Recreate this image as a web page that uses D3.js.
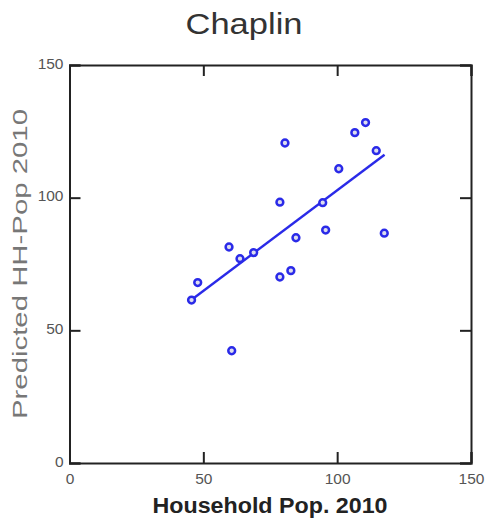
<!DOCTYPE html>
<meta charset="utf-8">
<style>
body { margin: 0; background: #fff; }
text { font-family: Arial, "Liberation Sans", sans-serif; }
</style>
<svg width="487" height="525"></svg>
<script src="https://d3js.org/d3.v7.min.js"></script>
<script>
// household pop 2010 vs predicted
var householdPop = [45.6, 47.9, 59.6, 63.7, 68.8, 78.6, 80.5, 78.6, 82.7, 84.6, 94.6, 95.7, 100.6, 106.6, 110.6, 114.6, 117.6, 60.6];
var predictedPop = [61.4, 68.0, 81.4, 77.0, 79.3, 98.3, 120.6, 70.1, 72.5, 84.9, 98.1, 87.8, 110.9, 124.5, 128.3, 117.7, 86.6, 42.3];
var fitLine = [[45.6, 61.5], [117.7, 116.2]];
var ticks = [0, 50, 100, 150];

var svg = d3.select("svg");
var plotL = 69.5, plotR = 471, plotT = 65, plotB = 463;

var x = d3.scaleLinear().domain([0, 150]).range([plotL, plotR]);
var y = d3.scaleLinear().domain([0, 150]).range([plotB, plotT]);

// title
svg.append("text")
    .attr("x", 244).attr("y", 34)
    .attr("text-anchor", "middle")
    .attr("font-size", 30)
    .attr("fill", "#333")
    .attr("textLength", 117)
    .attr("lengthAdjust", "spacingAndGlyphs")
    .text("Chaplin");

// axes, matlab style box with inward ticks
var axColor = "#222";
svg.append("g").attr("transform", "translate(0," + plotB + ")")
    .call(d3.axisBottom(x).tickValues(ticks).tickSize(-11).tickPadding(10))
    .call(g => g.selectAll("text").attr("font-size", 15.5).attr("fill", "#555"));
svg.append("g").attr("transform", "translate(0," + plotT + ")")
    .call(d3.axisTop(x).tickValues(ticks).tickSize(-11).tickFormat(""));
svg.append("g").attr("transform", "translate(" + plotL + ",0)")
    .call(d3.axisLeft(y).tickValues(ticks).tickSize(-11).tickPadding(6))
    .call(g => g.selectAll("text").attr("font-size", 15.5).attr("fill", "#555").attr("dy", "0.2em"));
svg.append("g").attr("transform", "translate(" + plotR + ",0)")
    .call(d3.axisRight(y).tickValues(ticks).tickSize(-11).tickFormat(""));

svg.selectAll(".domain").attr("stroke", axColor).attr("stroke-width", 2);
svg.selectAll(".tick line").attr("stroke", axColor).attr("stroke-width", 2);
svg.selectAll("text").attr("font-family", "Arial, 'Liberation Sans', sans-serif");

// axis labels
svg.append("text")
    .attr("x", 270).attr("y", 513)
    .attr("text-anchor", "middle")
    .attr("font-size", 22)
    .attr("font-weight", "bold")
    .attr("fill", "#222")
    .attr("textLength", 235)
    .attr("lengthAdjust", "spacingAndGlyphs")
    .text("Household Pop. 2010");

svg.append("text")
    .attr("transform", "translate(27,264) rotate(-90)")
    .attr("text-anchor", "middle")
    .attr("font-size", 19.5)
    .attr("fill", "#777")
    .attr("textLength", 310)
    .attr("lengthAdjust", "spacingAndGlyphs")
    .text("Predicted HH-Pop 2010");

// regression line
svg.append("line")
    .attr("x1", x(fitLine[0][0])).attr("y1", y(fitLine[0][1]))
    .attr("x2", x(fitLine[1][0])).attr("y2", y(fitLine[1][1]))
    .attr("stroke", "#2a2ae8")
    .attr("stroke-width", 2.4);

// points
svg.append("g").selectAll("circle")
    .data(householdPop)
    .join("circle")
      .attr("cx", d => x(d))
      .attr("cy", (d, i) => y(predictedPop[i]))
      .attr("r", 3.4)
      .attr("fill", "#dde")
      .attr("stroke", "#2a2ae8")
      .attr("stroke-width", 2.5);
</script>
